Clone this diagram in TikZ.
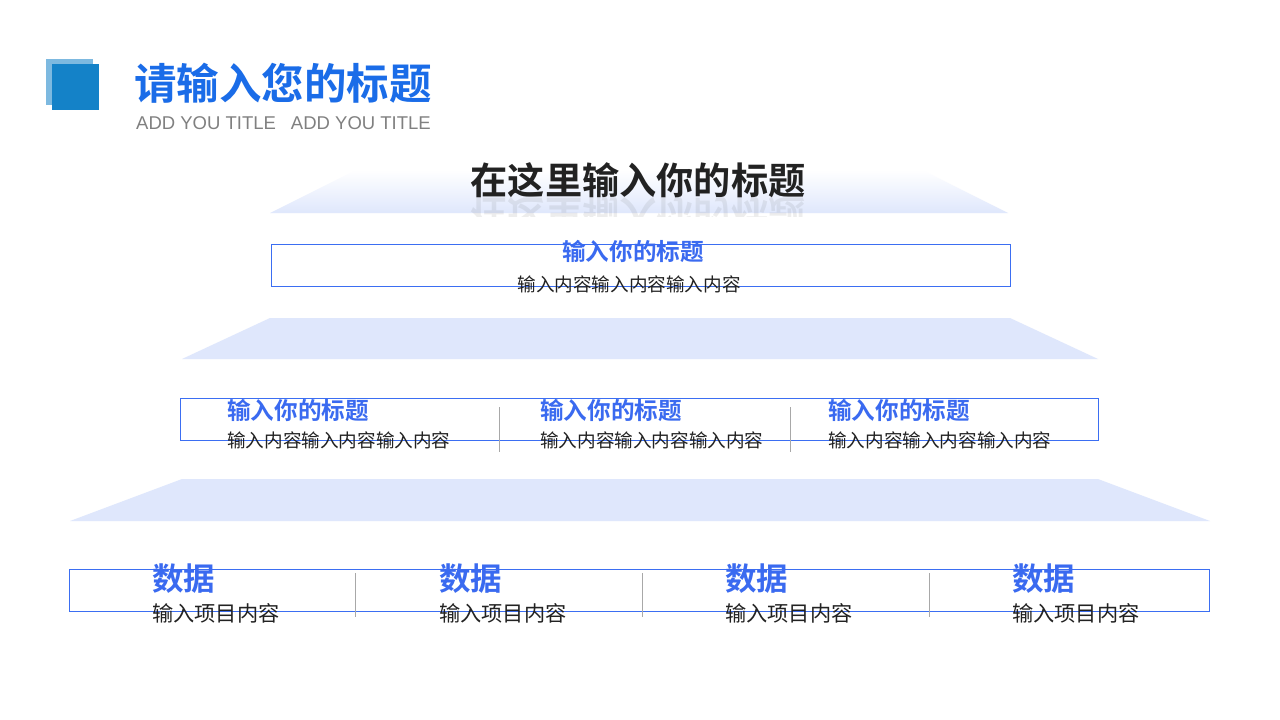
\documentclass[tikz,border=0pt]{standalone}
\usepackage{fontspec}
\setmainfont{Liberation Sans}
\newfontfamily\cjk{Noto Sans CJK SC}
\newfontfamily\cjkb{Noto Sans CJK SC Bold}
\usetikzlibrary{fadings}
\definecolor{titleblue}{HTML}{1A6CE8}
\definecolor{subblue}{HTML}{3A6AF0}
\definecolor{boxblue}{HTML}{3B6EF2}
\definecolor{trap}{HTML}{DFE7FC}
\definecolor{sqlight}{HTML}{7DB9E0}
\definecolor{sqdark}{HTML}{1482C8}
\definecolor{txtgray}{HTML}{808080}
\definecolor{divgray}{HTML}{A8A8A8}
\definecolor{dark}{HTML}{222222}
\tikzset{
  box/.style={draw=boxblue, line width=0.9pt},
  divider/.style={draw=divgray, line width=0.6pt},
  trapfill/.style={fill=trap},
  headtxt/.style={inner sep=0, text=subblue, font=\cjkb\fontsize{23.6}{25}\selectfont},
  bodytxt/.style={inner sep=0, text=dark, font=\cjk\fontsize{18.6}{20}\selectfont},
  datatxt/.style={inner sep=0, text=subblue, font=\cjkb\fontsize{31.5}{33}\selectfont},
  itemtxt/.style={inner sep=0, text=dark, font=\cjk\fontsize{21.2}{23}\selectfont},
}
\begin{document}
\begin{tikzpicture}[x=1pt,y=-1pt]
\useasboundingbox (0,0) rectangle (1280,720);
\fill[white] (0,0) rectangle (1280,720);
% logo squares
\fill[sqlight] (46,59) rectangle (93,105);
\fill[sqdark] (52,64) rectangle (99,110);
\node[anchor=west, inner sep=0, text=titleblue, font=\cjkb\fontsize{42.5}{45}\selectfont] (title) at (134,83) {请输入您的标题};
\node[anchor=west, inner sep=0, text=txtgray, font=\fontsize{18.5}{20}\selectfont] (sub) at (136,123) {ADD YOU TITLE\hspace{15pt}ADD YOU TITLE};
% top trapezoid with gradient
\shade[top color=white, bottom color=trap] (356,170) -- (922,170) -- (1008,213) -- (270,213) -- cycle;
% trapezoids
\fill[trapfill] (270,318) -- (1010,318) -- (1098,359) -- (182,359) -- cycle;
\fill[trapfill] (182,479) -- (1098,479) -- (1210,521) -- (70,521) -- cycle;
% main heading and reflection
\node[inner sep=0, text=dark, font=\cjkb\fontsize{37.2}{39}\selectfont] (head) at (638,180) {在这里输入你的标题};
\begin{scope}
\clip (440,197) rectangle (840,216);
\node[inner sep=0, text=dark, opacity=0.08, yscale=-1, transform shape, font=\cjkb\fontsize{37.2}{39}\selectfont] (headref) at (638,215) {在这里输入你的标题};
\end{scope}
% level 1
\draw[box] (271,244) rectangle (1010,286);
\node[headtxt] (h1) at (633,251) {输入你的标题};
\node[bodytxt] (b1) at (629,284) {输入内容输入内容输入内容};
% level 2
\draw[box] (180,398) rectangle (1098,440);
\draw[divider] (499,407) -- (499,452);
\draw[divider] (790,407) -- (790,452);
\node[headtxt, anchor=west] (h21) at (227,410) {输入你的标题};
\node[bodytxt, anchor=west] (b21) at (227,440) {输入内容输入内容输入内容};
\node[headtxt, anchor=west] (h22) at (540,410) {输入你的标题};
\node[bodytxt, anchor=west] (b22) at (540,440) {输入内容输入内容输入内容};
\node[headtxt, anchor=west] (h23) at (828,410) {输入你的标题};
\node[bodytxt, anchor=west] (b23) at (828,440) {输入内容输入内容输入内容};
% level 3
\draw[box] (69,569) rectangle (1209,611);
\draw[divider] (355,573) -- (355,617);
\draw[divider] (642,573) -- (642,617);
\draw[divider] (929,573) -- (929,617);
\node[datatxt, anchor=west] (d1) at (152,579) {数据};
\node[itemtxt, anchor=west] (i1) at (152,613) {输入项目内容};
\node[datatxt, anchor=west] (d2) at (439,579) {数据};
\node[itemtxt, anchor=west] (i2) at (439,613) {输入项目内容};
\node[datatxt, anchor=west] (d3) at (725,579) {数据};
\node[itemtxt, anchor=west] (i3) at (725,613) {输入项目内容};
\node[datatxt, anchor=west] (d4) at (1012,579) {数据};
\node[itemtxt, anchor=west] (i4) at (1012,613) {输入项目内容};
\end{tikzpicture}
\end{document}
